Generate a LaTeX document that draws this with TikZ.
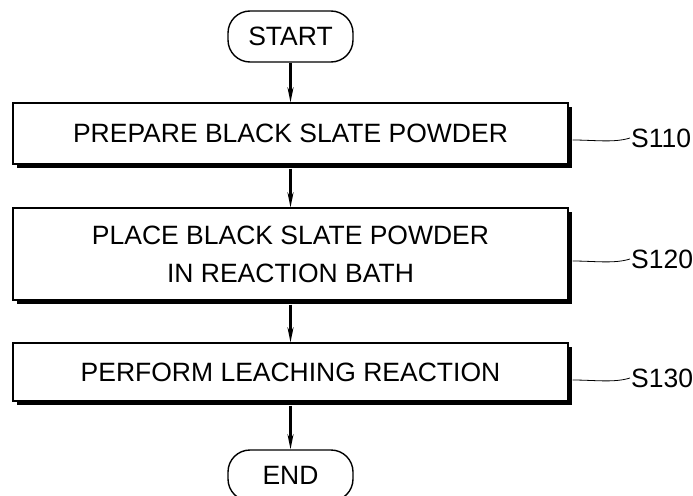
\documentclass[tikz,border=0pt]{standalone}
\usepackage{fontspec}
\setmainfont{Liberation Sans}
\usetikzlibrary{arrows.meta}
\usetikzlibrary{shadows}

\begin{document}
\begin{tikzpicture}
[x=1pt,y=-1pt,
term/.style={rectangle,draw=black,line width=1.4pt,rounded corners=22pt,minimum width=125pt,minimum height=51pt,inner sep=0pt,font=\fontsize{26.5}{30}\selectfont},
stepbox/.style={rectangle,draw=black,line width=1.2pt,fill=white,minimum width=555pt,inner sep=0pt,align=center,font=\fontsize{26.5}{38}\selectfont,drop shadow={shadow xshift=4pt,shadow yshift=-4pt,fill=black,opacity=1}},
tag/.style={anchor=west,inner sep=1pt,font=\fontsize{26.5}{30}\selectfont},
flow/.style={-{Stealth[length=15pt,width=6pt]},line width=2.2pt},
lead/.style={line width=0.8pt}]
\useasboundingbox (0,0) rectangle (693,495);

\node at (290.5,36.5)  [term] (start) {START};
\node at (290.5,133.5) [stepbox,minimum height=61pt] (s110) {PREPARE BLACK SLATE POWDER};
\node at (290.5,254)   [stepbox,minimum height=92pt] (s120) {PLACE BLACK SLATE POWDER\\IN REACTION BATH};
\node at (290.5,372)   [stepbox,minimum height=58pt] (s130) {PERFORM LEACHING REACTION};
\node at (290.5,475.5) [term] (end) {END};

\node at (630,138) [tag] (l110) {S110};
\node at (630,259) [tag] (l120) {S120};
\node at (630,378) [tag] (l130) {S130};

\draw [flow] (start.south) to (s110.north);
\draw [flow] ([yshift=-4pt]s110.south) to (s120.north);
\draw [flow] ([yshift=-4pt]s120.south) to (s130.north);
\draw [flow] ([yshift=-4pt]s130.south) to (end.north);

\draw [lead] ([xshift=4pt]s110.east |- 0,140) .. controls +(22,0) and +(-16,5) .. (l110.west);
\draw [lead] ([xshift=4pt]s120.east |- 0,261) .. controls +(22,0) and +(-16,5) .. (l120.west);
\draw [lead] ([xshift=4pt]s130.east |- 0,380) .. controls +(22,0) and +(-16,5) .. (l130.west);
\end{tikzpicture}
\end{document}
